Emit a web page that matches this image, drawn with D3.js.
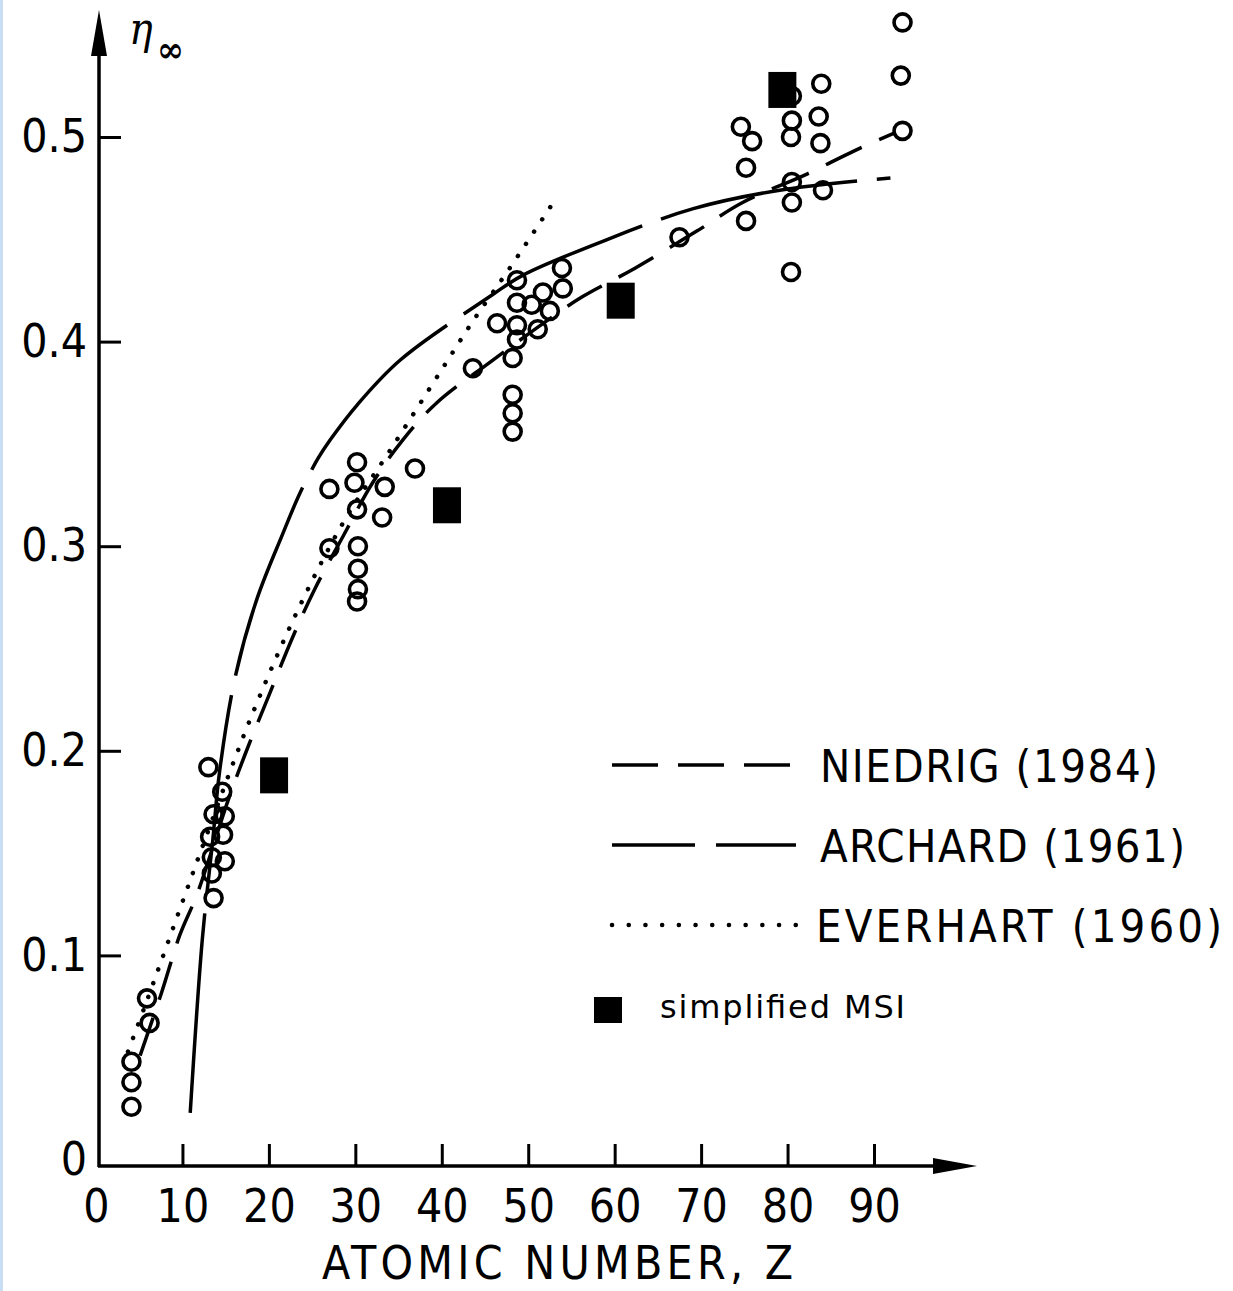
<!DOCTYPE html>
<html>
<head>
<meta charset="utf-8">
<script src="https://cdn.jsdelivr.net/npm/d3@7"></script>
<style>
  body { margin: 0; background: #fff; }
  text { font-family: "DejaVu Sans Condensed", "DejaVu Sans", sans-serif; font-stretch: condensed; fill: #000; }
</style>
</head>
<body>
<div id="chart"></div>
<script>
// measured backscattering coefficients (Z, eta)
var measuredPoints = [
  [4.1,0.026],[4.1,0.038],[4.1,0.048],
  [5.9,0.079],[6.2,0.067],
  [13.0,0.192],[14.6,0.180],[13.6,0.169],[14.9,0.168],[13.2,0.158],[14.7,0.159],
  [13.4,0.148],[14.9,0.146],[13.4,0.140],[13.6,0.128],
  [27.0,0.328],[27.0,0.299],[30.2,0.341],[29.9,0.331],[30.2,0.318],[30.3,0.300],
  [30.3,0.289],[30.3,0.279],[30.2,0.273],[33.4,0.329],[33.1,0.314],[36.9,0.338],[43.6,0.387],
  [46.4,0.409],[48.7,0.430],[48.7,0.419],[48.7,0.408],[48.7,0.401],[48.2,0.392],
  [48.2,0.374],[48.2,0.365],[48.2,0.356],[50.4,0.418],[51.1,0.406],[51.7,0.424],
  [52.5,0.415],[53.9,0.436],[54.0,0.426],[67.5,0.451],
  [74.6,0.505],[75.9,0.498],[75.2,0.485],[75.2,0.459],
  [80.5,0.520],[80.5,0.508],[80.4,0.500],[80.5,0.478],[80.5,0.468],[80.4,0.434],
  [83.9,0.526],[83.6,0.510],[83.8,0.497],[84.1,0.474],
  [93.3,0.556],[93.1,0.530],[93.3,0.503]
];

// simplified MSI results
var msiPoints = [[20.6,0.188],[40.6,0.320],[60.7,0.420],[79.4,0.523]];

// curves
var niedrigCurve = [
  [5.1,0.051],[7.6,0.082],[9.7,0.110],[11.7,0.130],[15.3,0.176],[17.5,0.201],
  [19.9,0.226],[22.8,0.256],[25.3,0.279],[28.6,0.305],[32.0,0.331],[35.5,0.352],
  [39.4,0.370],[45.6,0.390],[53.1,0.413],[56.3,0.422],[62.4,0.436],[69.5,0.454],
  [74.8,0.468],[82.3,0.482],[87.6,0.493],[92.4,0.502]
];
var archardCurve = [
  [10.9,0.023],[12.3,0.108],[13.5,0.156],[14.3,0.190],[16.1,0.236],[18.6,0.274],
  [21.6,0.306],[23.6,0.326],[25.7,0.343],[27.1,0.352],[30.2,0.369],[35.2,0.391],[45.9,0.423],
  [49.4,0.4325],[59.2,0.450],[69.1,0.465],[79.1,0.474],[91.9,0.480]
];
var everhartCurve = [
  [3.7,0.053],[5.9,0.078],[10.5,0.132],[12.3,0.153],[17.8,0.215],[23.6,0.271],
  [28.8,0.313],[34.2,0.348],[40.1,0.387],[43.6,0.410],[46.4,0.427],[48.2,0.438],[52.9,0.468]
];

var xTicks = [0,10,20,30,40,50,60,70,80,90];
var yTicks = [0,0.1,0.2,0.3,0.4,0.5];

var legendItems = [
  {label: "NIEDRIG (1984)", dash: "46,20", width: 338},
  {label: "ARCHARD (1961)", dash: "83,21", width: 365},
  {label: "EVERHART (1960)", dash: "0.1,16.6", width: 406}
];

var svgWidth = 1233;
var svgHeight = 1291;

var svg = d3.select("#chart")
  .append("svg")
  .attr("width", svgWidth)
  .attr("height", svgHeight);

svg.append("rect").attr("width", svgWidth).attr("height", svgHeight).attr("fill", "#fff");
// scan border on the left
svg.append("rect").attr("x", 0).attr("y", 0).attr("width", 3).attr("height", svgHeight).attr("fill", "#c9ddf4");

var xScale = d3.scaleLinear().domain([0, 90]).range([96, 874]);
var yScale = d3.scaleLinear().domain([0, 0.5]).range([1160, 137]);

var axisX = 99;     // drawn position of the vertical axis
var axisY = 1166;   // drawn position of the horizontal axis

// axes lines with arrowheads
svg.append("line")
  .attr("x1", axisX).attr("y1", axisY + 1)
  .attr("x2", axisX).attr("y2", 40)
  .attr("stroke", "#000").attr("stroke-width", 3.5);
svg.append("path")
  .attr("d", `M${axisX},10 L${axisX - 8},56 L${axisX + 8},56 Z`)
  .attr("fill", "#000");

svg.append("line")
  .attr("x1", axisX - 1).attr("y1", axisY)
  .attr("x2", 950).attr("y2", axisY)
  .attr("stroke", "#000").attr("stroke-width", 3.5);
svg.append("path")
  .attr("d", `M977,${axisY} L933,${axisY - 8} L933,${axisY + 8} Z`)
  .attr("fill", "#000");

// x axis ticks (pointing up)
var xAxis = d3.axisBottom(xScale)
  .tickValues(xTicks)
  .tickSizeInner(-22)
  .tickSizeOuter(0)
  .tickFormat(d3.format("d"));

var gx = svg.append("g")
  .attr("transform", `translate(0, ${axisY})`)
  .call(xAxis);
gx.select(".domain").remove();
gx.selectAll(".tick line")
  .attr("stroke", "#000").attr("stroke-width", 3)
  .filter(function(d) { return d === 0; }).remove();
gx.selectAll(".tick text")
  .attr("y", 56).attr("dy", null)
  .style("font-size", "46px").attr("fill", "#000");

// y axis ticks (pointing right)
var yAxis = d3.axisLeft(yScale)
  .tickValues(yTicks)
  .tickSizeInner(-22)
  .tickSizeOuter(0)
  .tickPadding(12)
  .tickFormat(function(d) { return d === 0 ? "0" : d3.format(".1f")(d); });

var gy = svg.append("g")
  .attr("transform", `translate(${axisX}, 0)`)
  .call(yAxis);
gy.select(".domain").remove();
gy.selectAll(".tick line")
  .attr("stroke", "#000").attr("stroke-width", 3)
  .filter(function(d) { return d === 0; }).remove();
gy.selectAll(".tick text")
  .style("font-size", "46px").attr("fill", "#000");

// axis titles
svg.append("text")
  .attr("x", 322).attr("y", 1279)
  .attr("textLength", 471)
  .style("font-size", "46px")
  .text("ATOMIC NUMBER, Z");

svg.append("text")
  .attr("x", 129).attr("y", 44)
  .style("font-family", "'DejaVu Serif', serif")
  .style("font-style", "italic")
  .style("font-size", "44px")
  .text("η");
svg.append("text")
  .attr("x", 157).attr("y", 62)
  .style("font-family", "'DejaVu Serif', serif")
  .style("font-size", "36px")
  .style("font-weight", "bold")
  .text("∞");

// curves
var line = d3.line()
  .x(function(d) { return xScale(d[0]); })
  .y(function(d) { return yScale(d[1]); })
  .curve(d3.curveCatmullRom.alpha(0.5));

svg.append("path")
  .datum(niedrigCurve)
  .attr("d", line)
  .attr("fill", "none")
  .attr("stroke", "#000")
  .attr("stroke-width", 3.5)
  .attr("stroke-dasharray", "40,19");

svg.append("path")
  .datum(archardCurve)
  .attr("d", line)
  .attr("fill", "none")
  .attr("stroke", "#000")
  .attr("stroke-width", 3.5)
  .attr("stroke-dasharray", "200,20");

svg.append("path")
  .datum(everhartCurve)
  .attr("d", line)
  .attr("fill", "none")
  .attr("stroke", "#000")
  .attr("stroke-width", 4.5)
  .attr("stroke-linecap", "round")
  .attr("stroke-dasharray", "0.1,14.5");

// measured points
svg.append("g")
  .selectAll("circle")
  .data(measuredPoints)
  .enter()
  .append("circle")
  .attr("cx", function(d) { return xScale(d[0]); })
  .attr("cy", function(d) { return yScale(d[1]); })
  .attr("r", 8.5)
  .attr("fill", "none")
  .attr("stroke", "#000")
  .attr("stroke-width", 3.6);

// simplified MSI squares
svg.append("g")
  .selectAll("rect")
  .data(msiPoints)
  .enter()
  .append("rect")
  .attr("x", function(d) { return xScale(d[0]) - 14; })
  .attr("y", function(d) { return yScale(d[1]) - 18; })
  .attr("width", 28)
  .attr("height", 36)
  .attr("fill", "#000");

// legend
var legend = svg.append("g");
legendItems.forEach(function(item, i) {
  var ly = 765 + i * 80;
  legend.append("line")
    .attr("x1", 612).attr("x2", 796)
    .attr("y1", ly).attr("y2", ly)
    .attr("stroke", "#000")
    .attr("stroke-width", i === 2 ? 4.5 : 3.5)
    .attr("stroke-linecap", i === 2 ? "round" : "butt")
    .attr("stroke-dasharray", item.dash);
  legend.append("text")
    .attr("x", i === 2 ? 816 : 820)
    .attr("y", ly + 17)
    .attr("textLength", item.width)
    .style("font-size", "45px")
    .text(item.label);
});

legend.append("rect")
  .attr("x", 594).attr("y", 997)
  .attr("width", 28).attr("height", 26)
  .attr("fill", "#000");
legend.append("text")
  .attr("x", 660).attr("y", 1018)
  .attr("textLength", 245)
  .style("font-family", "'DejaVu Sans', sans-serif")
  .style("font-stretch", "normal")
  .style("font-size", "32px")
  .text("simplified MSI");
</script>
</body>
</html>
